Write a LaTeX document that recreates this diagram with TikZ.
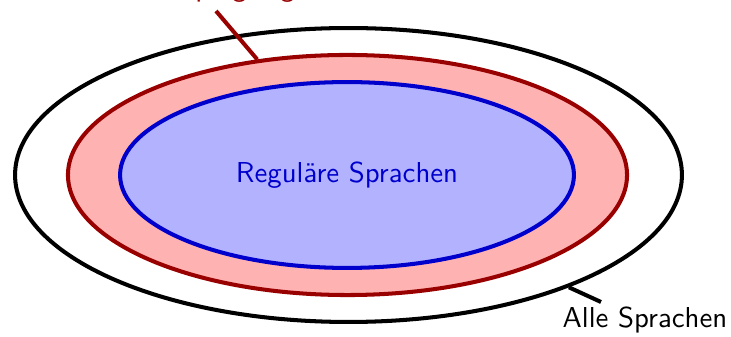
\documentclass[tikz,border=0pt]{standalone}
\usetikzlibrary{shapes.geometric}
\renewcommand{\familydefault}{\sfdefault}

\begin{document}
\begin{tikzpicture}[x=0.347pt,y=-0.347pt,
  lang/.style={ellipse, draw, line width=1.4pt, inner sep=0pt},
  pointer/.style={line width=1.4pt}]
\useasboundingbox (0,0) rectangle (731,337);
\node[lang, draw=black, minimum width=231.4pt, minimum height=102pt] (alle) at (348.5,175) {};
\node[lang, draw=red!60!black, fill=red!30, minimum width=194pt, minimum height=83.3pt] (pump) at (347.5,175) {};
\node[lang, draw=blue!80!black, fill=blue!30, minimum width=157.5pt, minimum height=64.5pt, text=blue!80!black] (regulaer) at (347,175) {Reguläre Sprachen};
% labels
\coordinate (pumpend) at (216,11);
\draw[pointer, red!60!black] (pump.128) -- (pumpend);
\node[anchor=base west, text=red!60!black] (pumplabel) at (129,-3.8) {Pumping-Eigenschaft};
\coordinate (alleend) at (601,302);
\draw[pointer] (alle.333.4) -- (alleend);
\node[anchor=base] (allelabel) at (645,328) {Alle Sprachen};
\end{tikzpicture}
\end{document}
